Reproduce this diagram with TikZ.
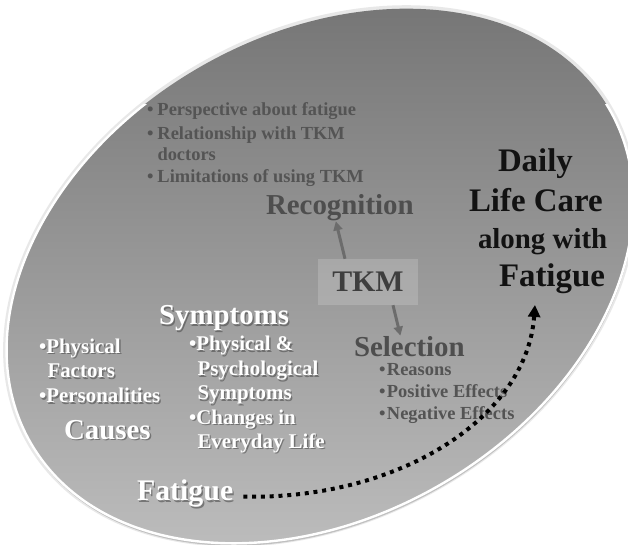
\documentclass[tikz,border=0pt]{standalone}
\usepackage{fontspec}
\setmainfont{Liberation Serif}
\usetikzlibrary{arrows.meta}
\definecolor{darktxt}{RGB}{84,84,84}
\definecolor{headtxt}{RGB}{78,78,78}
\definecolor{tkmtxt}{RGB}{62,62,62}
\definecolor{arrowgray}{RGB}{108,108,108}
\definecolor{topgray}{RGB}{114,114,114}
\definecolor{botgray}{RGB}{192,192,192}
\tikzset{
  ovl/.style={insert path={(320,269) ellipse [x radius=334, y radius=241, rotate=30]}},
  ovlglow/.style={insert path={(320,269) ellipse [x radius=337.5, y radius=244.5, rotate=30]}},
  basetext/.style={inner sep=0pt, outer sep=0pt, anchor=base west},
  darkitem/.style={basetext, text=darktxt, font=\bfseries\fontsize{18.5}{22}\selectfont},
  darkhead/.style={basetext, text=headtxt, font=\bfseries\fontsize{29}{29}\selectfont},
  blackhead/.style={basetext, text=black!93, font=\bfseries\fontsize{33}{33}\selectfont},
  wtx/.style={basetext, text=white},
  wsh/.style={basetext, text=black!70, text opacity=0.6},
  tkmbox/.style={fill=white, fill opacity=0.17, text opacity=1, text=tkmtxt,
    minimum width=100bp, minimum height=46bp, inner sep=0pt,
    font=\bfseries\fontsize{30}{30}\selectfont},
  grayarrow/.style={draw=arrowgray, line width=3bp, -{Triangle[width=9bp,length=9bp]}},
  dotarrow/.style={draw=black, line width=4bp, dash pattern=on 4bp off 4.8bp,
    -{Triangle[width=12bp,length=12bp]}},
}
% #1 name, #2 x, #3 y, #4 size, #5 text
\newcommand\wlabel[5]{%
  \node[wsh, font=\bfseries\fontsize{#4}{#4}\selectfont] (#1sh) at (#2+1.4,#3-1.5) {#5};
  \node[wtx, font=\bfseries\fontsize{#4}{#4}\selectfont] (#1) at (#2,#3) {#5};
}
\begin{document}
\begin{tikzpicture}[x=1bp,y=1bp]
\useasboundingbox (0,0) rectangle (628,545);
\fill[white] (0,0) rectangle (628,545);
% oval with glow, shadow, gradient and rim
\fill[black!9, ovlglow];
\fill[black!35, opacity=0.6, xshift=0.5bp, yshift=-2.5bp, ovl];
\shade[top color=topgray, bottom color=botgray, ovl];
\begin{scope}
  \clip (0,0) rectangle (628,440);
  \draw[white, line width=2.4bp, ovl];
\end{scope}

% Recognition bullets
\node[darkitem] (r1) at (147,429) {\makebox[10.5bp][l]{\textbullet}Perspective about fatigue};
\node[darkitem] (r2) at (147,405.7) {\makebox[10.5bp][l]{\textbullet}Relationship with TKM};
\node[darkitem] (r3) at (157.5,384) {doctors};
\node[darkitem] (r4) at (147,362) {\makebox[10.5bp][l]{\textbullet}Limitations of using TKM};
\node[darkhead] (recog) at (266,330) {Recognition};

% TKM
\node[tkmbox] (tkmbox) at (368,263) {TKM};

% Selection
\node[darkhead] (sel) at (354,188.3) {Selection};
\node[darkitem] (s1) at (379,169.3) {\makebox[8bp][l]{\textbullet}Reasons};
\node[darkitem] (s2) at (379,147.3) {\makebox[8bp][l]{\textbullet}Positive Effects};
\node[darkitem] (s3) at (379,125) {\makebox[8bp][l]{\textbullet}Negative Effects};

% gray arrows
\draw[grayarrow] ([xshift=-23bp]tkmbox.north) -- ([xshift=-4bp]recog.south);
\draw[grayarrow] ([xshift=25bp]tkmbox.south) -- ([xshift=-9bp,yshift=1bp]sel.north);

% Daily Life Care
\node[blackhead] (d1) at (498,373.3) {Daily};
\node[blackhead] (d2) at (469,333.3) {Life Care};
\node[blackhead, font=\bfseries\fontsize{29}{29}\selectfont] (d3) at (478,296.7) {along with};
\node[blackhead] (d4) at (499,258.3) {Fatigue};

% Symptoms (white)
\wlabel{symh}{159}{220}{29}{Symptoms}
\wlabel{sy1}{189}{194}{21}{\textbullet Physical \&}
\wlabel{sy2}{197.5}{169.3}{21}{Psychological}
\wlabel{sy3}{197.5}{145}{21}{Symptoms}
\wlabel{sy4}{189}{120.7}{21}{\textbullet Changes in}
\wlabel{sy5}{197.5}{96.7}{21}{Everyday Life}

% Causes (white)
\wlabel{ca1}{39}{191.7}{21}{\textbullet Physical}
\wlabel{ca2}{47.5}{167.3}{21}{Factors}
\wlabel{ca3}{39}{142.3}{21}{\textbullet Personalities}
\wlabel{cah}{64}{105.7}{29}{Causes}

% Fatigue (white)
\wlabel{fatb}{137}{44.3}{30}{Fatigue}

% dotted arrow
\draw[dotarrow] ([xshift=10bp,yshift=-3bp]fatb.east) .. controls (400,45) and (527,128) .. ([xshift=-17bp,yshift=-11bp]d4.south);
\end{tikzpicture}
\end{document}
